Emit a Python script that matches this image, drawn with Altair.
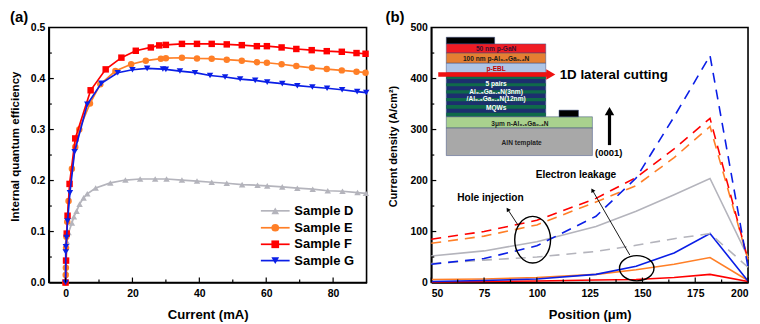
import altair as alt
import pandas as pd

FONT = "Liberation Sans"

# ---------- panel (a) data ----------
d_x = [0, 0.1, 0.4, 0.9, 1.9, 2.5, 3.3, 4.2, 5.4, 6.5, 9, 13.4, 17.9, 22.3, 26.8, 30.2, 34.8, 39.3, 43.7, 48.2, 52.8, 57.4, 60.3, 64.8, 69.3, 73.9, 78.4, 82.8, 87.3, 89.8]
d_y = [0, 0.0215, 0.08, 0.098, 0.117, 0.129, 0.14, 0.1537, 0.166, 0.174, 0.1855, 0.1953, 0.201, 0.203, 0.203, 0.203, 0.201, 0.199, 0.1966, 0.1947, 0.192, 0.1907, 0.1895, 0.1875, 0.185, 0.183, 0.18, 0.179, 0.1764, 0.175]
e_x = [0, 0.05, 0.1, 0.15, 0.25, 0.5, 0.9, 1.9, 2.9, 4.1, 7.3, 10.4, 14.9, 19.6, 24, 28.5, 30, 34.8, 39.3, 43.7, 48.2, 52.7, 57.2, 60.2, 64.6, 69, 73.7, 78.1, 82.6, 87, 89.7]
e_y = [0, 0.015, 0.029, 0.068, 0.09, 0.119, 0.16, 0.223, 0.266, 0.30, 0.351, 0.389, 0.4147, 0.428, 0.435, 0.439, 0.44, 0.4408, 0.4395, 0.439, 0.437, 0.435, 0.432, 0.431, 0.428, 0.4245, 0.421, 0.4186, 0.416, 0.4135, 0.4115]
f_x = [0, 0.15, 0.35, 0.6, 1.2, 2.9, 7.5, 12, 16.7, 21, 25.5, 28, 30, 34.8, 39.3, 43.7, 48.2, 52.7, 57.2, 60.2, 64.6, 69, 73.6, 78.1, 82.6, 87, 89.7]
f_y = [0, 0.043, 0.096, 0.131, 0.1934, 0.2826, 0.377, 0.418, 0.441, 0.4545, 0.461, 0.465, 0.466, 0.468, 0.468, 0.468, 0.467, 0.4655, 0.4635, 0.4635, 0.461, 0.458, 0.4557, 0.4537, 0.4525, 0.45, 0.4486]
g_x = [0, 0.06, 0.1, 0.3, 0.6, 1.3, 2.7, 6.5, 10.7, 15.6, 20, 24.4, 29.1, 30, 34.2, 38.7, 43.2, 47.7, 52.2, 56.7, 60.3, 64.8, 69.3, 73.8, 78.2, 82.7, 87.2, 89.9]
g_y = [0, 0.06, 0.07, 0.088, 0.1205, 0.1758, 0.2565, 0.3496, 0.3906, 0.4115, 0.4173, 0.42, 0.4186, 0.418, 0.4147, 0.4115, 0.406, 0.403, 0.399, 0.3965, 0.393, 0.39, 0.386, 0.3834, 0.381, 0.378, 0.3744, 0.3725]
samples = ["Sample D", "Sample E", "Sample F", "Sample G"]
sample_colors = ["#b4b4bc", "#ff7f27", "#ff0000", "#0a1ee6"]
sample_shapes = ["triangle-up", "circle", "square", "triangle-down"]
legend_y = [0.1406, 0.1074, 0.075, 0.043]
legend_line_x = [58.4, 67.0]
legend_mark_x = 62.7
legend_label_x = 68.4

# ---------- panel (b) data ----------
pos = [50, 75, 100, 128, 147, 165, 182, 200]
grey_solid = [52, 62, 80, 110, 140, 172, 204, 50]
blue_solid = [2, 4, 7, 16, 32, 58, 96, 3]
orange_solid = [6, 7, 10, 16, 25, 36, 49, 4]
red_solid = [1, 2, 3, 5, 6, 10, 16, 2]
grey_dash = [37, 44, 50, 61, 73, 86, 96, 30]
orange_dash = [77, 91, 113, 158, 190, 245, 306, 45]
red_dash = [85, 100, 122, 165, 206, 262, 322, 45]
blue_dash = [36, 47, 72, 130, 205, 325, 445, 30]

# ---------- inset data (in axis units of panel b) ----------
inset_x0 = [57.1, 57.1, 57.1, 57.1, 57.1, 57.1, 57.1, 110.5]
inset_x1 = [80.0, 104.2, 104.2, 104.2, 104.2, 126.3, 126.3, 119.7]
inset_y0 = [468, 450, 430, 411, 325, 303, 249, 325]
inset_y1 = [481, 468, 450, 430, 411, 325, 303, 338]
inset_fill = ["#000000", "#f01c24", "#e57f32", "#aec5e6", "#1c2f6e", "#a9d18e", "#a8a8a8", "#000000"]
band_y0 = [399, 384.7, 370.5, 355.5, 341, 326]
band_y1 = [404.3, 391, 377, 362, 348, 333]
inset_labels = ["50 nm p-GaN", "100 nm p-Al\u2080.\u2086Ga\u2080.\u2084N", "p-EBL", "5 pairs", "Al\u2080.\u2085Ga\u2080.\u2085N(3nm)", "/Al\u2080.\u2086Ga\u2080.\u2084N(12nm)", "MQWs", "3\u03bcm n-Al\u2080.\u2086Ga\u2080.\u2084N", "AlN template"]
inset_lx = [80.7, 80.7, 80.7, 80.7, 80.7, 80.7, 80.7, 92, 92.8]
inset_ly = [457, 438.5, 418, 389, 373.7, 359, 343, 311.5, 272.8]
inset_lc = ["#3a1030", "#1a1a1a", "#c00000", "white", "white", "white", "white", "#1a1a1a", "#222222"]
ann_text = ["1D lateral cutting", "(0001)", "Hole injection", "Electron leakage"]
ann_x = [110.8, 134, 78, 118.5]
ann_y = [406, 254, 166, 210]
ann_size = [13.4, 9.5, 10.2, 10.2]
ann_align = ["left", "center", "center", "center"]
ellipse_x = [98, 147.3]
ellipse_y = [84, 28]
arrow_x = [[91, 86.2], [144, 126.3]]
arrow_y = [[113, 143.4], [54, 181.1]]
arrow_angle = [-33, -30]


def xy(x, y):
    return pd.DataFrame({"x": x, "y": y})


def text_layer(x, y, t, size, color, align, X, Y):
    rows = pd.DataFrame({"x": x, "y": y, "t": t, "s": size, "c": color, "a": align})
    out = []
    for a in rows["a"].unique():
        out.append(alt.Chart(rows[rows["a"] == a]).mark_text(font=FONT, fontWeight="bold", align=a, baseline="middle").encode(
            x=X, y=Y, text="t:N",
            size=alt.Size("s:Q", scale=None, legend=None),
            color=alt.Color("c:N", scale=None, legend=None)))
    return out


def xticks(vals, X, length):
    df = pd.DataFrame({"x": vals})
    return alt.Chart(df).mark_rule(color="black", strokeWidth=1.2).encode(
        x=X, y=alt.value(256), y2=alt.value(256 - length))


def yticks(vals, Y, length):
    df = pd.DataFrame({"y": vals})
    return alt.Chart(df).mark_rule(color="black", strokeWidth=1.2).encode(
        y=Y, x=alt.value(0), x2=alt.value(length))


W, H = 319, 256
FRAME = alt.ViewBackground(stroke="black", strokeWidth=1.6)

# ---------- panel (a) ----------
xa = alt.X("x:Q", scale=alt.Scale(domain=[-5, 90]), axis=alt.Axis(values=[0, 20, 40, 60, 80], title="Current (mA)", ticks=False, labelPadding=6, titlePadding=10, titleFontSize=13.2))
ya = alt.Y("y:Q", scale=alt.Scale(domain=[0, 0.5]), axis=alt.Axis(values=[0, 0.1, 0.2, 0.3, 0.4, 0.5], format=".1f", title="Internal quantum efficiency", ticks=False, labelPadding=4, titlePadding=10, titleFontSize=11.6, titleY=119))

lay_a = []
for (sx, sy), name, col, sh in zip([(d_x, d_y), (e_x, e_y), (f_x, f_y), (g_x, g_y)], samples, sample_colors, sample_shapes):
    df = xy(sx, sy)
    lay_a.append(alt.Chart(df).mark_line(color=col, strokeWidth=1.7, clip=False).encode(x=xa, y=ya))
    lay_a.append(alt.Chart(df).mark_point(color=col, fill=col, filled=True, opacity=1, shape=sh, size=42, clip=False).encode(x=xa, y=ya))
for ly, name, col, sh in zip(legend_y, samples, sample_colors, sample_shapes):
    lay_a.append(alt.Chart(xy(legend_line_x, [ly, ly])).mark_line(color=col, strokeWidth=1.7).encode(x=xa, y=ya))
    lay_a.append(alt.Chart(xy([legend_mark_x], [ly])).mark_point(color=col, fill=col, filled=True, opacity=1, shape=sh, size=60).encode(x=xa, y=ya))
lay_a += text_layer([legend_label_x] * 4, legend_y, samples, [13] * 4, ["black"] * 4, ["left"] * 4, xa, ya)
lay_a += [
    xticks([0, 20, 40, 60, 80], xa, 5), xticks([10, 30, 50, 70], xa, 3),
    yticks([0.1, 0.2, 0.3, 0.4], ya, 5), yticks([0.05, 0.15, 0.25, 0.35, 0.45], ya, 3),
]
lay_a.append(alt.Chart(pd.DataFrame({"t": ["(a)"]})).mark_text(font=FONT, fontWeight="bold", fontSize=15, align="left", baseline="middle").encode(
    x=alt.value(-39), y=alt.value(-11), text="t:N"))
panel_a = alt.layer(*lay_a).properties(width=W, height=H, view=FRAME)

# ---------- panel (b) ----------
xb = alt.X("x:Q", scale=alt.Scale(domain=[50, 200]), axis=alt.Axis(values=[50, 75, 100, 125, 150, 175, 200], title="Position (\u03bcm)", ticks=False, labelPadding=6, titlePadding=10, titleFontSize=13))
yb = alt.Y("y:Q", scale=alt.Scale(domain=[0, 500]), axis=alt.Axis(values=[0, 100, 200, 300, 400, 500], title="Current density (A/cm\u00b2)", ticks=False, labelPadding=4, titlePadding=11, titleFontSize=11, titleY=119))
x2 = alt.X2("x1:Q")
y2 = alt.Y2("y1:Q")

lay_b = []
for vals, col in zip([grey_solid, orange_solid, red_solid, blue_solid], sample_colors):
    lay_b.append(alt.Chart(xy(pos, vals)).mark_line(color=col, strokeWidth=1.6).encode(x=xb, y=yb))
for vals, col in zip([grey_dash, orange_dash, red_dash, blue_dash], sample_colors):
    lay_b.append(alt.Chart(xy(pos, vals)).mark_line(color=col, strokeWidth=1.6, strokeDash=[10, 7]).encode(x=xb, y=yb))

rects = pd.DataFrame({"x": inset_x0, "x1": inset_x1, "y": inset_y0, "y1": inset_y1, "c": inset_fill})
lay_b.append(alt.Chart(rects).mark_rect(stroke="#3a4a80", strokeWidth=0.5).encode(x=xb, x2=x2, y=yb, y2=y2, color=alt.Color("c:N", scale=None, legend=None)))
bands = pd.DataFrame({"x": [57.1] * 6, "x1": [104.2] * 6, "y": band_y0, "y1": band_y1})
lay_b.append(alt.Chart(bands).mark_rect(color="#0f6a4a").encode(x=xb, x2=x2, y=yb, y2=y2))
lay_b += text_layer(inset_lx, inset_ly, inset_labels, [6.6] * 9, inset_lc, ["center"] * 9, xb, yb)

# big arrows of the inset
lay_b.append(alt.Chart(xy([53.3, 105], [408, 408])).mark_line(color="#ee1111", strokeWidth=4.5).encode(x=xb, y=yb))
lay_b.append(alt.Chart(xy([106.6], [408])).mark_point(color="#ee1111", fill="#ee1111", filled=True, opacity=1, shape="triangle-right", size=110).encode(x=xb, y=yb))
lay_b.append(alt.Chart(xy([134.4, 134.4], [269.5, 330])).mark_line(color="black", strokeWidth=3.2).encode(x=xb, y=yb))
lay_b.append(alt.Chart(xy([134.4], [336])).mark_point(color="black", fill="black", filled=True, opacity=1, shape="triangle-up", size=90).encode(x=xb, y=yb))

# ellipses and thin arrows
ell = "M-1,0A1,{r},0,1,1,1,0A1,{r},0,1,1,-1,0Z"
lay_b.append(alt.Chart(xy([ellipse_x[0]], [ellipse_y[0]])).mark_point(shape=ell.format(r=1.3), size=1296, color="black", strokeWidth=1.4, opacity=1, filled=False).encode(x=xb, y=yb))
lay_b.append(alt.Chart(xy([ellipse_x[1]], [ellipse_y[1]])).mark_point(shape=ell.format(r=0.73), size=1197, color="black", strokeWidth=1.4, opacity=1, filled=False).encode(x=xb, y=yb))
for ax, ay, ang in zip(arrow_x, arrow_y, arrow_angle):
    lay_b.append(alt.Chart(xy(ax, ay)).mark_line(color="black", strokeWidth=0.9).encode(x=xb, y=yb))
    lay_b.append(alt.Chart(xy([ax[1]], [ay[1]])).mark_point(shape="triangle-up", size=22, color="black", fill="black", filled=True, opacity=1, angle=360 + ang).encode(x=xb, y=yb))
lay_b += text_layer(ann_x, ann_y, ann_text, ann_size, ["black"] * 4, ann_align, xb, yb)

lay_b += [
    xticks([50, 75, 100, 125, 150, 175, 200], xb, 5), xticks([62.5, 87.5, 112.5, 137.5, 162.5, 187.5], xb, 3),
    yticks([100, 200, 300, 400], yb, 5), yticks([50, 150, 250, 350, 450], yb, 3),
]
lay_b.append(alt.Chart(pd.DataFrame({"t": ["(b)"]})).mark_text(font=FONT, fontWeight="bold", fontSize=15, align="left", baseline="middle").encode(
    x=alt.value(-46), y=alt.value(-11), text="t:N"))
panel_b = alt.layer(*lay_b).properties(width=318, height=H, view=FRAME)

chart = alt.hconcat(panel_a, panel_b, spacing=65, bounds="flush").properties(
    padding={"left": 0, "top": 0, "right": 0, "bottom": 0}, background="white"
).configure_axis(
    grid=False, domainColor="black", domainWidth=1.6, labelFont=FONT, labelFontWeight="bold", labelFontSize=10.5,
    labelColor="black", titleFont=FONT, titleFontWeight="bold", titleFontSize=12.5, titleColor="black"
)

chart.save("out.html", embed_options={"renderer": "svg", "actions": False})
